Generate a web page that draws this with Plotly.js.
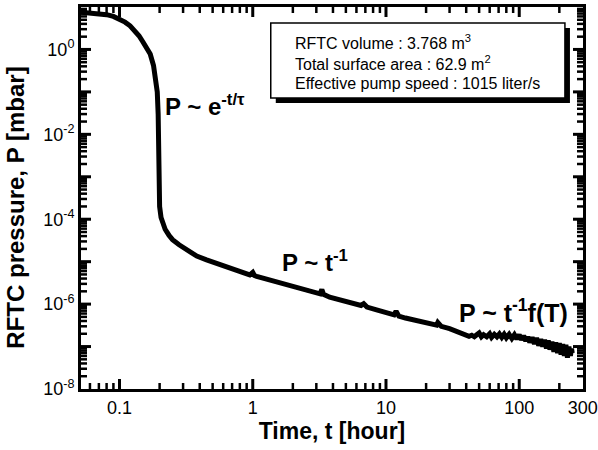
<!DOCTYPE html>
<html>
<head>
<meta charset="utf-8">
<script src="https://cdn.plot.ly/plotly-3.0.1.min.js"></script>
<style>html,body{margin:0;padding:0;background:#fff;}#chart{width:598px;height:450px;}</style>
</head>
<body>
<div id="chart"></div>
<script>
// Pump-down curve
const time_h = [0.051, 0.06, 0.07, 0.08, 0.09, 0.1, 0.11, 0.12, 0.13, 0.14, 0.15, 0.16, 0.17, 0.18, 0.187, 0.192, 0.195, 0.197, 0.198, 0.2,
  0.205, 0.212, 0.22, 0.235, 0.25, 0.28, 0.32, 0.38, 0.45, 0.55, 0.67, 0.8, 0.95, 1.0, 1.03, 1.07, 1.3, 1.6, 2.14, 2.7,
  3.2, 3.3, 3.4, 3.78, 4.5, 5.5, 6.5, 6.8, 7.2, 8.5, 10, 11.5, 11.9, 12.5, 14, 17, 20, 22.4, 24, 24.5,
  26, 30, 35.7, 40, 42, 44, 46, 48, 50, 52, 54, 57, 60, 62, 65, 68, 71, 74, 77, 80,
  84, 88, 92, 96, 100, 104, 108, 112, 116, 120, 125, 130, 135, 140, 145, 150, 155, 160, 165, 170,
  176, 182, 188, 194, 200, 206, 212, 218, 224, 230, 236, 242, 247, 250];
const pressure_mbar = [7.5, 7.3, 7.0, 6.6, 6.0, 5.2, 4.4, 3.6, 2.8, 2.1, 1.5, 1.05, 0.78, 0.42, 0.22, 0.1, 0.03, 0.005, 8e-4, 2e-4,
  1.1e-4, 7.5e-5, 5.8e-5, 4.2e-5, 3.3e-5, 2.5e-5, 1.9e-5, 1.35e-5, 1.1e-5, 8.8e-6, 7.0e-6, 5.8e-6, 4.9e-6, 5.6e-6, 4.7e-6, 4.5e-6, 3.8e-6, 3.2e-6, 2.5e-6, 2.0e-6,
  1.75e-6, 2.2e-6, 1.7e-6, 1.45e-6, 1.25e-6, 1.05e-6, 9.3e-7, 1.02e-6, 8.5e-7, 7.3e-7, 6.3e-7, 5.6e-7, 6.8e-7, 5.2e-7, 4.7e-7, 4.1e-7, 3.7e-7, 3.4e-7, 3.2e-7, 3.7e-7,
  3.0e-7, 2.65e-7, 2.2e-7, 1.9e-7, 1.75e-7, 1.85e-7, 1.7e-7, 1.9e-7, 2.1e-7, 1.7e-7, 1.9e-7, 1.7e-7, 2.0e-7, 1.65e-7, 1.95e-7, 1.7e-7, 2.0e-7, 1.65e-7, 1.95e-7, 1.6e-7,
  1.95e-7, 1.55e-7, 1.9e-7, 1.5e-7, 1.9e-7, 1.45e-7, 1.8e-7, 1.35e-7, 1.7e-7, 1.25e-7, 1.65e-7, 1.15e-7, 1.6e-7, 1.05e-7, 1.5e-7, 1.0e-7, 1.45e-7, 9.0e-8, 1.4e-7, 8.5e-8,
  1.3e-7, 7.5e-8, 1.25e-7, 7.0e-8, 1.2e-7, 6.5e-8, 1.15e-7, 6.0e-8, 1.1e-7, 5.5e-8, 1.0e-7, 6.0e-8, 9.0e-8, 7.0e-8];

const xTickVals = [0.1, 1, 10, 100, 300];
const xTickText = ['0.1', '1', '10', '100', '300'];
const yTickVals = [1e-8, 1e-6, 1e-4, 1e-2, 1];
const yTickText = ['10<sup>-8</sup>', '10<sup>-6</sup>', '10<sup>-4</sup>', '10<sup>-2</sup>', '10<sup>0</sup>'];
const infoLines = ['RFTC volume : 3.768 m<sup>3</sup>', 'Total surface area : 62.9 m<sup>2</sup>', 'Effective pump speed : 1015 liter/s'];
const xTitle = 'Time, t [hour]';
const yTitle = 'RFTC pressure, P [mbar]';

const FONT = 'Liberation Sans, Arial, Helvetica, sans-serif';
const XR = [Math.log10(0.0514), Math.log10(301)];
const YR = [-8, 1];
const PLOT_W = 598 - 81 - 15;
const PLOT_H = 450 - 7 - 61;

// tick marks (axis decoration), drawn as line traces on helper axes
function decadeMultiples(lo, hi, digits) {
  const v = [];
  for (let e = lo; e <= hi; e++) digits.forEach(function (d) { v.push(d * Math.pow(10, e)); });
  return v;
}
const minorDigits = [2, 3, 4, 5, 6, 7, 8, 9];
const xMajor = decadeMultiples(-1, 2, [1]);
const xMinor = decadeMultiples(-2, 2, minorDigits).filter(function (v) { return v > 0.0514 && v < 300; });
const yMajor = decadeMultiples(-7, 0, [1]);
const yMinor = decadeMultiples(-8, 0, minorDigits);

function xTickTrace(vals, lenPx, w) {
  const f = lenPx / PLOT_H, xs = [], ys = [];
  vals.forEach(function (v) {
    xs.push(v, v, null, v, v, null);
    ys.push(0, f, null, 1, 1 - f, null);
  });
  return {x: xs, y: ys, xaxis: 'x', yaxis: 'y2', type: 'scatter', mode: 'lines',
    line: {color: '#000', width: w}, hoverinfo: 'skip', connectgaps: false};
}
function yTickTrace(vals, lenPx, w) {
  const f = lenPx / PLOT_W, xs = [], ys = [];
  vals.forEach(function (v) {
    ys.push(v, v, null, v, v, null);
    xs.push(0, f, null, 1, 1 - f, null);
  });
  return {x: xs, y: ys, xaxis: 'x2', yaxis: 'y', type: 'scatter', mode: 'lines',
    line: {color: '#000', width: w}, hoverinfo: 'skip', connectgaps: false};
}

const trace = {
  x: time_h, y: pressure_mbar, type: 'scatter', mode: 'lines',
  line: {color: '#000', width: 5}, hoverinfo: 'skip'
};

function axis(extra) {
  return Object.assign({
    type: 'log', showgrid: false, zeroline: false, autorange: false,
    showline: true, linecolor: '#000', linewidth: 3, mirror: true,
    ticks: '', tickmode: 'array',
    tickfont: {family: FONT, size: 18, color: '#000'}
  }, extra);
}
const helper = {type: 'linear', range: [0, 1], autorange: false, visible: false, fixedrange: true};

const layout = {
  width: 598, height: 450,
  margin: {l: 81, r: 15, t: 7, b: 61},
  paper_bgcolor: '#fff', plot_bgcolor: '#fff',
  showlegend: false,
  xaxis: axis({range: XR, tickvals: xTickVals, ticktext: xTickText,
    title: {text: '<b>' + xTitle + '</b>', font: {family: FONT, size: 23, color: '#000'}, standoff: 5}}),
  yaxis: axis({range: YR, tickvals: yTickVals, ticktext: yTickText}),
  xaxis2: Object.assign({overlaying: 'x', anchor: 'y'}, helper),
  yaxis2: Object.assign({overlaying: 'y', anchor: 'x'}, helper),
  shapes: [
    {type: 'rect', xref: 'paper', yref: 'paper', x0: 0.388, x1: 0.974, y0: 0.749, y1: 0.945,
     line: {width: 0}, fillcolor: '#000', layer: 'above'},
    {type: 'rect', xref: 'paper', yref: 'paper', x0: 0.378, x1: 0.964, y0: 0.762, y1: 0.958,
     line: {width: 1.5, color: '#000'}, fillcolor: '#fff', layer: 'above'}
  ],
  annotations: [
    {xref: 'paper', yref: 'paper', x: -0.13, y: 0.474, xanchor: 'center', yanchor: 'middle', showarrow: false,
     textangle: -90, text: '<b>' + yTitle + '</b>', font: {family: FONT, size: 24, color: '#000'}},
    {xref: 'paper', yref: 'paper', x: 0.163, y: 0.743, xanchor: 'left', yanchor: 'middle', showarrow: false,
     text: '<b>P ~ e<sup>-t/τ</sup></b>', font: {family: FONT, size: 24, color: '#000'}},
    {xref: 'paper', yref: 'paper', x: 0.396, y: 0.335, xanchor: 'left', yanchor: 'middle', showarrow: false,
     text: '<b>P ~ t<sup>-1</sup></b>', font: {family: FONT, size: 24, color: '#000'}},
    {xref: 'paper', yref: 'paper', x: 0.749, y: 0.205, xanchor: 'left', yanchor: 'middle', showarrow: false,
     text: '<b>P ~ t<sup>-1</sup>f(T)</b>', font: {family: FONT, size: 25, color: '#000'}},
    {xref: 'paper', yref: 'paper', x: 0.422, y: 0.908, xanchor: 'left', yanchor: 'middle', showarrow: false,
     text: infoLines[0], font: {family: FONT, size: 16, color: '#000'}},
    {xref: 'paper', yref: 'paper', x: 0.422, y: 0.853, xanchor: 'left', yanchor: 'middle', showarrow: false,
     text: infoLines[1], font: {family: FONT, size: 16, color: '#000'}},
    {xref: 'paper', yref: 'paper', x: 0.422, y: 0.801, xanchor: 'left', yanchor: 'middle', showarrow: false,
     text: infoLines[2], font: {family: FONT, size: 16, color: '#000'}}
  ]
};

const traces = [
  xTickTrace(xMajor, 10, 3), xTickTrace(xMinor, 6, 2.5),
  yTickTrace(yMajor, 10, 3), yTickTrace(yMinor, 6, 2.5),
  trace
];

Plotly.newPlot('chart', traces, layout, {staticPlot: true, displayModeBar: false});
</script>
</body>
</html>
